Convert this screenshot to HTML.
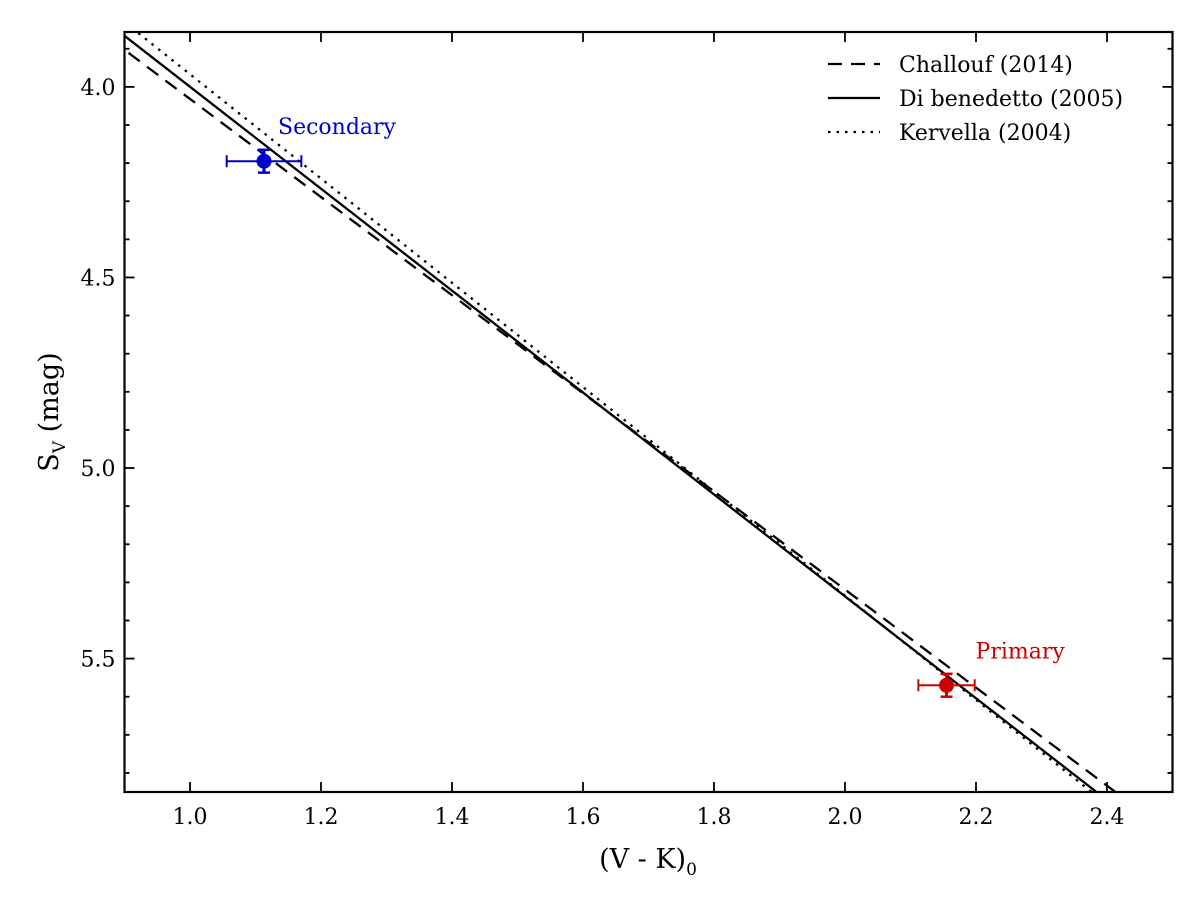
<!DOCTYPE html>
<html><head><meta charset="utf-8"><style>body{margin:0;background:#fff}svg{display:block}text{font-family:"DejaVu Serif","Liberation Serif",serif}</style></head>
<body>
<svg id="chart" width="1200" height="905"></svg>
<script>
const xTicks=[1.0,1.2,1.4,1.6,1.8,2.0,2.2,2.4];
const yTicks=[4.0,4.5,5.0,5.5];
const lineNames=["Challouf (2014)","Di benedetto (2005)","Kervella (2004)"];
const lineIntercepts=[3.903,3.866,3.830];
const lineSlopes=[1.287,1.337,1.368];
const pointNames=["Secondary","Primary"];
const pointX=[1.113,2.155];
const pointY=[4.195,5.57];
const pointXErr=[0.057,0.043];
const pointYErr=[0.03,0.03];
const pointColors=["#0000cc","#cc0000"];
const NS="http://www.w3.org/2000/svg";
const L=124.5,R=1172.5,T=32,B=792,X0=0.9,X1=2.5,Y0=3.856,Y1=5.85;
const sx=v=>L+(v-X0)/(X1-X0)*(R-L), sy=v=>T+(v-Y0)/(Y1-Y0)*(B-T);
const svg=document.getElementById('chart');
function mk(t,a,p){const e=document.createElementNS(NS,t);for(const k in a)e.setAttribute(k,a[k]);(p||svg).appendChild(e);return e;}
const defs=mk('defs',{});const cp=mk('clipPath',{id:'c'},defs);mk('rect',{x:L,y:T,width:R-L,height:B-T},cp);
const dashes=["14,9","","2.5,6"];
const g=mk('g',{'clip-path':'url(#c)'});
lineNames.forEach((n,i)=>{const f=x=>lineIntercepts[i]+lineSlopes[i]*(x-X0);
const l=mk('line',{x1:sx(0.85),y1:sy(f(0.85)),x2:sx(2.55),y2:sy(f(2.55)),stroke:'#000','stroke-width':2.3,'stroke-dasharray':dashes[i]},g);

});
pointNames.forEach((n,i)=>{const c=pointColors[i],x=sx(pointX[i]),y=sy(pointY[i]);
const pg=mk('g',{});


const x1=sx(pointX[i]-pointXErr[i]),x2=sx(pointX[i]+pointXErr[i]),y1=sy(pointY[i]-pointYErr[i]),y2=sy(pointY[i]+pointYErr[i]);
mk('line',{x1:x1,y1:y,x2:x2,y2:y,stroke:c,'stroke-width':2},pg);
mk('line',{x1:x1,y1:y-6,x2:x1,y2:y+6,stroke:c,'stroke-width':2},pg);
mk('line',{x1:x2,y1:y-6,x2:x2,y2:y+6,stroke:c,'stroke-width':2},pg);
mk('line',{x1:x,y1:y1,x2:x,y2:y2,stroke:c,'stroke-width':3},pg);
mk('line',{x1:x-6,y1:y1,x2:x+6,y2:y1,stroke:c,'stroke-width':2.5},pg);
mk('line',{x1:x-6,y1:y2,x2:x+6,y2:y2,stroke:c,'stroke-width':2.5},pg);
mk('circle',{cx:x,cy:y,r:7.5,fill:c},pg);
const t=mk('text',{x:i==0?x+14:x+29,y:y-27,fill:c,'font-size':22},pg);t.textContent=n;

});
mk('rect',{x:L,y:T,width:R-L,height:B-T,fill:'none',stroke:'#000','stroke-width':2.2});
xTicks.forEach(v=>{const x=sx(v);mk('line',{x1:x,y1:B,x2:x,y2:B-10,stroke:'#000','stroke-width':1.8});mk('line',{x1:x,y1:T,x2:x,y2:T+10,stroke:'#000','stroke-width':1.8});
const t=mk('text',{x:x,y:B+32,'text-anchor':'middle','font-size':22});t.textContent=v.toFixed(1);

});
for(let v=3.9;v<5.86;v+=0.1){const y=sy(v);if(y<T+1)continue;const maj=Math.abs(v*2-Math.round(v*2))<1e-6;const w=maj?10:5;
mk('line',{x1:L,y1:y,x2:L+w,y2:y,stroke:'#000','stroke-width':1.8});mk('line',{x1:R,y1:y,x2:R-w,y2:y,stroke:'#000','stroke-width':1.8});}
yTicks.forEach(v=>{const t=mk('text',{x:L-9,y:sy(v)+8,'text-anchor':'end','font-size':22});t.textContent=v.toFixed(1);

});
let t=mk('text',{x:648,y:868,'text-anchor':'middle','font-size':27});t.innerHTML='(V - K)<tspan font-size="17" dy="7">0</tspan>';

t=mk('text',{transform:'translate(58,412) rotate(-90)','text-anchor':'middle','font-size':27});t.innerHTML='S<tspan font-size="17" dy="7">V</tspan><tspan dy="-7">  (mag)</tspan>';

lineNames.forEach((n,i)=>{const y=64+i*34;const lg=mk('g',{});


mk('line',{x1:828,y1:y,x2:880,y2:y,stroke:'#000','stroke-width':2.3,'stroke-dasharray':dashes[i]},lg);
const tt=mk('text',{x:899,y:y+8,'font-size':22},lg);tt.textContent=n;});
</script>
</body></html>
